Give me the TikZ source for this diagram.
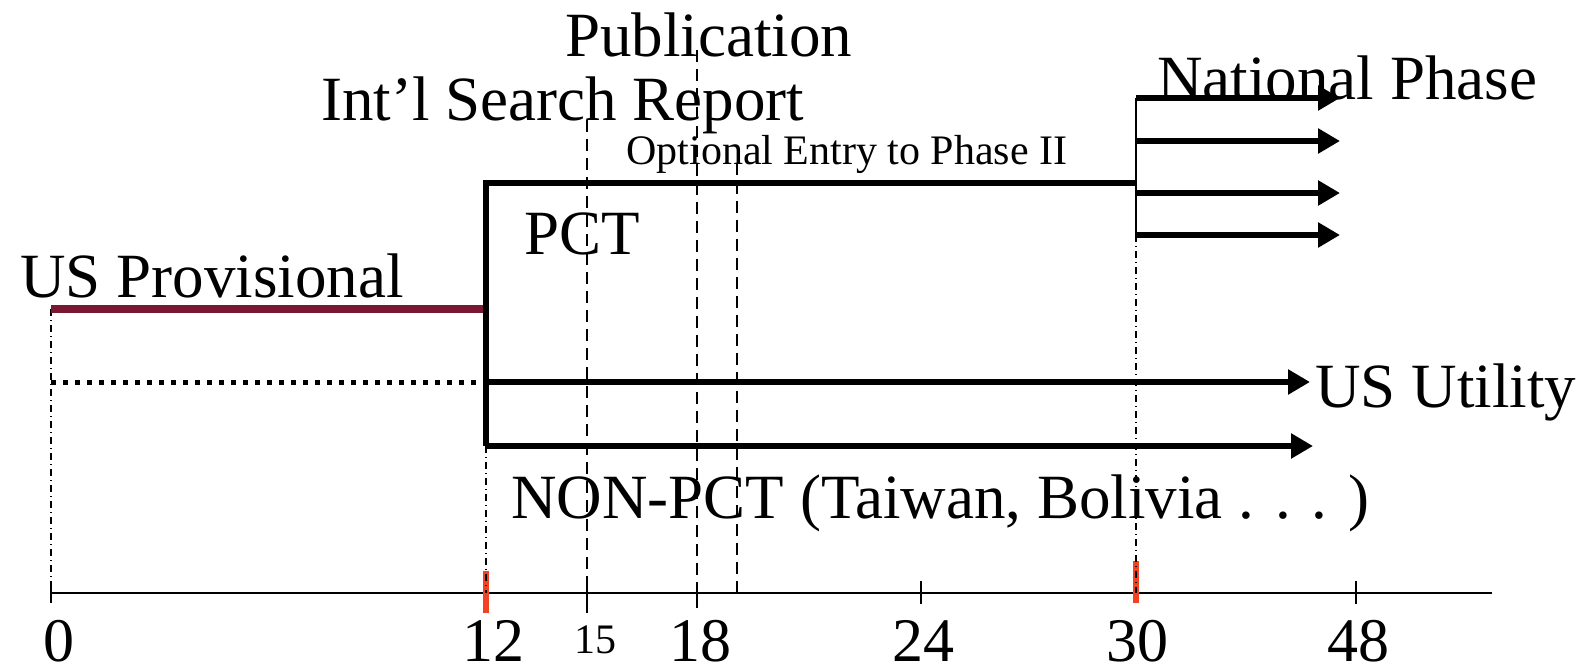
\documentclass[tikz,border=0pt]{standalone}
\usepackage{fontspec}
\setmainfont{Liberation Serif}
\usetikzlibrary{arrows.meta}
\definecolor{provcol}{RGB}{122,24,52}
\definecolor{markred}{RGB}{242,66,34}

\begin{document}
\begin{tikzpicture}[x=0.5pt,y=-0.5pt,
  big/.style={font=\fontsize{31.5}{36}\selectfont, inner sep=0pt, anchor=base west},
  small/.style={font=\fontsize{21}{25}\selectfont, inner sep=0pt, anchor=base west},
  numlab/.style={font=\fontsize{31}{36}\selectfont, inner sep=0pt, text depth=0pt, anchor=base},
  numsmall/.style={font=\fontsize{21}{25}\selectfont, inner sep=0pt, text depth=0pt, anchor=base},
  heavy/.style={line width=3.2pt, line join=miter},
  heavyarrow/.style={line width=3.2pt, line join=miter, -{Triangle[length=11pt,width=12pt]}},
  provline/.style={line width=4pt, provcol},
  dotline/.style={line width=2.5pt, dash pattern=on 2.5pt off 3.5pt},
  dashdot/.style={line width=0.6pt, dash pattern=on 3.5pt off 2pt on 0.5pt off 2pt},
  guide/.style={line width=0.6pt, dash pattern=on 6pt off 3.5pt},
  axisline/.style={line width=1pt},
  tickmark/.style={line width=0.9pt},
  redtick/.style={line width=3pt, markred},
]
\useasboundingbox (0,0) rectangle (1583,668);

% time axis positions
\coordinate (m0)  at (51,593);
\coordinate (m12) at (486,593);
\coordinate (m15) at (587,593);
\coordinate (m18) at (697,593);
\coordinate (m19) at (737,593);
\coordinate (m24) at (921,593);
\coordinate (m30) at (1136,593);
\coordinate (m48) at (1356,593);
\coordinate (axisend) at (1492,593);

% key points of the filing routes
\coordinate (provstart) at (51,309);
\coordinate (provend)   at (486,309);
\coordinate (dotstart)  at (51,382);
\coordinate (dotend)    at (480,382);
\coordinate (pctcorner) at (486,183);
\coordinate (pctend)    at (1136,183);
\coordinate (utilstart) at (486,382);
\coordinate (utiltip)   at (1310,382);
\coordinate (nonpctcorner) at (486,446);
\coordinate (nonpcttip) at (1313,446);
\coordinate (natA) at (1136,98);
\coordinate (natB) at (1136,141);
\coordinate (natC) at (1136,193);
\coordinate (natD) at (1136,235);
\coordinate (natAtip) at (1340,98);
\coordinate (natBtip) at (1340,141);
\coordinate (natCtip) at (1340,193);
\coordinate (natDtip) at (1340,235);
\coordinate (g15top) at (587,120);
\coordinate (g18top) at (697,50);
\coordinate (g19top) at (737,163);

% axis with ticks
\draw[axisline] (m0) -- (axisend);
\draw[tickmark] (m0)  ++(0,-12) -- ++(0,22);
\draw[tickmark] (m15) ++(0,-10) -- ++(0,30);
\draw[tickmark] (m18) ++(0,-7)  -- ++(0,22);
\draw[tickmark] (m24) ++(0,-12) -- ++(0,23);
\draw[tickmark] (m48) ++(0,-12) -- ++(0,23);
\draw[redtick] (m12) ++(0,-22) -- ++(0,42);
\draw[redtick] (m30) ++(0,-32) -- ++(0,42);

% dash-dot drop lines
\draw[dashdot] (provstart) -- (m0);
\draw[dashdot] (nonpctcorner) -- (m12);
\draw[dashdot] (natD) -- (m30);

% dashed milestone guides
\draw[guide] (g15top) -- (m15);
\draw[guide] (g18top) -- (m18);
\draw[guide] (g19top) -- (m19);

% provisional and its dotted continuation
\draw[provline] (provstart) -- (provend);
\draw[dotline] (dotstart) -- (dotend);

% PCT / non-PCT branches
\draw[heavy] (pctend) -- (pctcorner) -- (nonpctcorner);
\draw[heavyarrow] (pctcorner |- nonpctcorner) -- (nonpcttip);
\draw[heavyarrow] (utilstart) -- (utiltip);

% national phase fan-out
\draw[line width=1.2pt] (natA) -- (natD);
\draw[heavyarrow] (natA) -- (natAtip);
\draw[heavyarrow] (natB) -- (natBtip);
\draw[heavyarrow] (natC) -- (natCtip);
\draw[heavyarrow] (natD) -- (natDtip);

% labels
\node[big] (publab) at (565,57) {Publication};
\node[big] (isrlab) at (321,121) {Int’l Search Report};
\node[small] (optlab) at (626,165) {Optional Entry to Phase II};
\node[big] (natlab) at (1157,100) {National Phase};
\node[big] (pctlab) at (524,255) {PCT};
\node[big] (provlab) at (20,297) {US Provisional};
\node[big] (utillab) at (1315,407) {US Utility};
\node[big] (nonlab) at (511,518) {NON-PCT (Taiwan, Bolivia . . . )};

% axis numbers
\node[numlab] (n0)  at (59,661) {0};
\node[numlab] (n12) at (493,661) {12};
\node[numsmall] (n15) at (595,653) {15};
\node[numlab] (n18) at (700,661) {18};
\node[numlab] (n24) at (923,661) {24};
\node[numlab] (n30) at (1137,661) {30};
\node[numlab] (n48) at (1358,661) {48};
\end{tikzpicture}
\end{document}
